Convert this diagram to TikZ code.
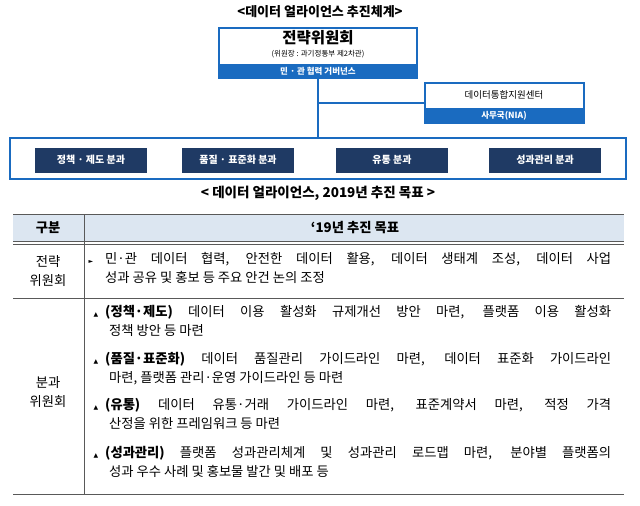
\documentclass[tikz,border=0pt]{standalone}
\usepackage{fontspec}
\setmainfont{Noto Sans CJK KR}
\newfontfamily\symfont{DejaVu Sans}
\usetikzlibrary{positioning}
\definecolor{bandblue}{HTML}{1A6BC0}
\definecolor{navy}{HTML}{1F3A64}
\definecolor{headfill}{HTML}{DCE6F1}
\tikzset{
  frame/.style={draw=bandblue,line width=2pt,fill=white,inner sep=0pt},
  band/.style={fill=bandblue,text=white,font=\bfseries\fontsize{8.5}{8.5}\selectfont,inner sep=0pt},
  unit/.style={fill=navy,text=white,font=\bfseries\fontsize{10}{10}\selectfont,
    minimum width=112pt,minimum height=25pt,inner sep=0pt},
  cell/.style={font=\fontsize{13.3}{19}\selectfont,align=center,inner sep=0pt},
  goal/.style={font=\fontsize{13.3}{19}\selectfont,text width=506pt,align=justify,
    anchor=north west,inner sep=0pt},
  bulletmark/.style={font=\symfont\fontsize{6}{6}\selectfont,inner sep=0pt}
}
\begin{document}
\begin{tikzpicture}[x=1pt,y=-1pt]
\useasboundingbox (0,0) rectangle (640,506);
% Titles
\node[font=\bfseries\fontsize{13}{13}\selectfont] (title) at (320,12) {<데이터 얼라이언스 추진체계>};
\node[font=\bfseries\fontsize{13.5}{13}\selectfont] (subtitle) at (318,193) {< 데이터 얼라이언스, 2019년 추진 목표 >};
% Strategy committee
\node[frame,minimum width=198pt,minimum height=50pt] (top) at (318,53) {};
\node[band,minimum width=198pt,minimum height=15pt,above=0pt of top.south] (topband) {민 · 관 협력 거버넌스};
\node[font=\bfseries\fontsize{15.5}{15}\selectfont] (topname) at (318,38) {전략위원회};
\node[font=\fontsize{7.5}{7.5}\selectfont] (topsub) at (318,54) {(위원장 : 과기정통부 제2차관)};
% Support center
\node[frame,minimum width=159pt,minimum height=40pt] (center) at (504,103) {};
\node[band,minimum width=159pt,minimum height=16pt,above=0pt of center.south] (centerband) {사무국(NIA)};
\node[font=\fontsize{9.5}{9.5}\selectfont] (centername) at (504,95) {데이터통합지원센터};
% Sub committees
\node[frame,minimum width=616pt,minimum height=41pt] (units) at (318,158) {};
\node[unit] (u1) at (91,160) {정책 · 제도 분과};
\node[unit] (u2) at (238,160) {품질 · 표준화 분과};
\node[unit] (u3) at (392,160) {유통 분과};
\node[unit] (u4) at (545,160) {성과관리 분과};
% Connectors
\draw[bandblue,line width=2pt] (topband.south) -- (units.north);
\coordinate (branch) at (topband.south |- center.west);
\draw[bandblue,line width=2pt] (branch) -- (center.west);
% Table
\fill[headfill] (13,214) rectangle (624,242);
\draw[gray!70!black,line width=1pt] (13,214) -- (624,214);
\draw[gray!70!black,line width=0.6pt] (13,241.5) -- (624,241.5) (13,244) -- (624,244);
\draw[gray!70!black,line width=0.5pt] (13,298) -- (624,298);
\draw[gray!70!black,line width=1pt] (13,494) -- (624,494);
\draw[gray!70!black,line width=0.6pt] (84,214) -- (84,494);
\node[cell,font=\bfseries\fontsize{13.3}{19}\selectfont] (hd1) at (48,228) {구분};
\node[cell,font=\bfseries\fontsize{13.3}{19}\selectfont] (hd2) at (355,228) {‘19년 추진 목표};
\node[cell] (r1) at (48,271) {전략\\위원회};
\node[cell] (r2) at (48,392) {분과\\위원회};
\node[bulletmark] (b1) at (91,262) {►};
\node[goal] (g1) at (105,252) {민·관 데이터 협력, 안전한 데이터 활용, 데이터 생태계 조성, 데이터 사업\linebreak 성과 공유 및 홍보 등 주요 안건 논의 조정};
\node[bulletmark] (b2) at (96,315) {▲};
\node[goal] (g2) at (105,305) {\textbf{(정책·제도)} 데이터 이용 활성화 규제개선 방안 마련, 플랫폼 이용 활성화\linebreak \hspace*{4pt}정책 방안 등 마련};
\node[bulletmark] (b3) at (96,362) {▲};
\node[goal] (g3) at (105,352) {\textbf{(품질·표준화)} 데이터 품질관리 가이드라인 마련, 데이터 표준화 가이드라인\linebreak \hspace*{4pt}마련, 플랫폼 관리·운영 가이드라인 등 마련};
\node[bulletmark] (b4) at (96,408) {▲};
\node[goal] (g4) at (105,398) {\textbf{(유통)} 데이터 유통·거래 가이드라인 마련, 표준계약서 마련, 적정 가격\linebreak \hspace*{4pt}산정을 위한 프레임워크 등 마련};
\node[bulletmark] (b5) at (96,456) {▲};
\node[goal] (g5) at (105,446) {\textbf{(성과관리)} 플랫폼 성과관리체계 및 성과관리 로드맵 마련, 분야별 플랫폼의\linebreak \hspace*{4pt}성과 우수 사례 및 홍보물 발간 및 배포 등};
\end{tikzpicture}
\end{document}
